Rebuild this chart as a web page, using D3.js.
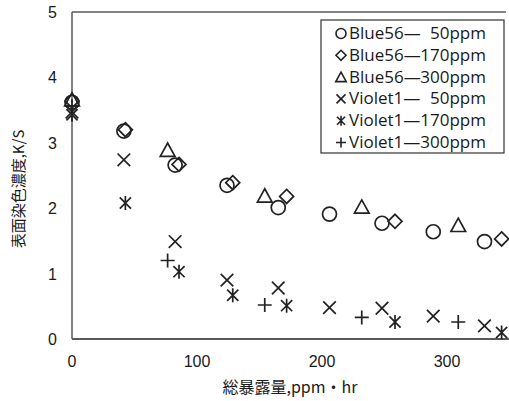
<!doctype html>
<html>
<head>
<meta charset="utf-8">
<script src="https://cdn.jsdelivr.net/npm/d3@7"></script>
<style>
    html, body { margin: 0; padding: 0; background: #fff; }
    svg { display: block; }
    .tick-label { font-family: "Liberation Sans", Arial, sans-serif; font-size: 16px; fill: #1a1a1a; }
    .axis-title { font-family: "Noto Sans CJK JP", sans-serif; font-size: 16px; fill: #1a1a1a; }
    .legend-text { font-family: "Open Sans", sans-serif; font-size: 16px; fill: #1a1a1a; }
</style>
</head>
<body>
<svg id="chart" width="509" height="401"></svg>
<script>
    // series names / legend
    var seriesNames = ["Blue56", "Blue56", "Blue56", "Violet1", "Violet1", "Violet1"];
    var seriesConc = ["50ppm", "170ppm", "300ppm", "50ppm", "170ppm", "300ppm"];
    var seriesMarks = ["circle", "diamond", "triangle", "times", "asterisk", "plus"];

    // exposure (ppm·hr) and K/S values
    var x50 = [0, 41.5, 82.5, 124, 165, 206, 248, 289, 330];
    var x170 = [0, 42.7, 85.6, 128.6, 171.7, 258.4, 343.7];
    var x300 = [0, 76.5, 154.2, 231.8, 309];

    var blue50 = [3.62, 3.18, 2.66, 2.35, 2.01, 1.91, 1.77, 1.64, 1.49];
    var blue170 = [3.64, 3.2, 2.67, 2.39, 2.18, 1.80, 1.53];
    var blue300 = [3.66, 2.89, 2.19, 2.02, 1.74];
    var violet50 = [3.47, 2.74, 1.49, 0.90, 0.78, 0.48, 0.47, 0.35, 0.20];
    var violet170 = [3.43, 2.08, 1.03, 0.67, 0.51, 0.26, 0.10];
    var violet300 = [3.56, 1.20, 0.52, 0.33, 0.26];

    var xTicks = [0, 100, 200, 300];
    var yTicks = [0, 1, 2, 3, 4, 5];

    var seriesX = [x50, x170, x300, x50, x170, x300];
    var seriesY = [blue50, blue170, blue300, violet50, violet170, violet300];

    var svg = d3.select("#chart");
    var plotLeft = 72, plotTop = 12, plotBottom = 339;

    var x = d3.scaleLinear().domain([0, 350]).range([plotLeft, plotLeft + 437.5]);
    var y = d3.scaleLinear().domain([0, 5]).range([plotBottom, plotTop]);

    // marker paths, s = half size
    function markPath(type, s) {
        var p = d3.path();
        if (type === "circle") {
            p.moveTo(s, 0); p.arc(0, 0, s, 0, 2 * Math.PI);
        } else if (type === "diamond") {
            p.moveTo(0, -s); p.lineTo(s, 0); p.lineTo(0, s); p.lineTo(-s, 0); p.closePath();
        } else if (type === "triangle") {
            p.moveTo(0, -s); p.lineTo(s * 1.05, s * 0.9); p.lineTo(-s * 1.05, s * 0.9); p.closePath();
        } else if (type === "times") {
            var a = s * 0.9;
            p.moveTo(-a, -a); p.lineTo(a, a); p.moveTo(a, -a); p.lineTo(-a, a);
        } else if (type === "asterisk") {
            var b = s * 0.8;
            p.moveTo(-b, -b); p.lineTo(b, b); p.moveTo(b, -b); p.lineTo(-b, b);
            p.moveTo(0, -s); p.lineTo(0, s);
        } else if (type === "plus") {
            p.moveTo(-s, 0); p.lineTo(s, 0); p.moveTo(0, -s); p.lineTo(0, s);
        }
        return p.toString();
    }

    // frame
    var axisColor = "#5a5a5a";
    svg.append("line").attr("x1", plotLeft).attr("x2", 506).attr("y1", plotTop).attr("y2", plotTop)
        .attr("stroke", axisColor).attr("stroke-width", 1.5);
    svg.append("line").attr("x1", plotLeft).attr("x2", plotLeft).attr("y1", plotTop).attr("y2", plotBottom)
        .attr("stroke", axisColor).attr("stroke-width", 1.5);
    svg.append("line").attr("x1", plotLeft).attr("x2", 509).attr("y1", plotBottom).attr("y2", plotBottom)
        .attr("stroke", axisColor).attr("stroke-width", 2);

    // tick labels
    svg.selectAll(".ytick").data(yTicks).enter().append("text")
        .attr("class", "tick-label")
        .attr("x", 57).attr("y", function(d){ return y(d) + 6; })
        .attr("text-anchor", "end")
        .text(function(d){ return d; });

    svg.selectAll(".xtick").data(xTicks).enter().append("text")
        .attr("class", "tick-label")
        .attr("x", function(d){ return x(d); }).attr("y", 367)
        .attr("text-anchor", "middle")
        .text(function(d){ return d; });

    // axis titles
    svg.append("text").attr("class", "axis-title")
        .style("font-size", "15px")
        .attr("transform", "translate(24,189) rotate(-90)")
        .attr("text-anchor", "middle")
        .text("表面染色濃度,K/S");
    svg.append("text").attr("class", "axis-title")
        .attr("x", 290).attr("y", 393)
        .attr("text-anchor", "middle")
        .text("総暴露量,ppm・hr");

    // points
    var markColor = "#222";
    seriesX.forEach(function(xs, i) {
        var pts = xs.map(function(v, j){ return [v, seriesY[i][j]]; });
        svg.append("g").selectAll("path").data(pts).enter().append("path")
            .attr("d", markPath(seriesMarks[i], 7))
            .attr("transform", function(d){ return "translate(" + x(d[0]) + "," + y(d[1]) + ")"; })
            .attr("fill", "none")
            .attr("stroke", markColor)
            .attr("stroke-width", 1.7);
    });

    // legend
    var lg = svg.append("g");
    var textLeft = 349, textRight = 486;
    lg.append("rect").attr("x", 321).attr("y", 20).attr("width", 183).attr("height", 133)
        .attr("fill", "#fff").attr("stroke", "#333").attr("stroke-width", 1.2);

    // fit the font so the longest row spans textLeft..textRight
    var probe = lg.append("text").attr("class", "legend-text").text("Violet1\u2014300ppm");
    var fs = 16 * (textRight - textLeft) / probe.node().getComputedTextLength();
    probe.remove();

    seriesNames.forEach(function(name, i) {
        var cy = 33.5 + i * 21.8;
        lg.append("path")
            .attr("d", markPath(seriesMarks[i], 5))
            .attr("transform", "translate(341," + cy + ")")
            .attr("fill", "none").attr("stroke", markColor).attr("stroke-width", 1.6);
        lg.append("text").attr("class", "legend-text")
            .style("font-size", fs + "px")
            .attr("x", textLeft).attr("y", cy + 5.5)
            .text(name + "\u2014");
        lg.append("text").attr("class", "legend-text")
            .style("font-size", fs + "px")
            .attr("x", textRight).attr("y", cy + 5.5)
            .attr("text-anchor", "end")
            .text(seriesConc[i]);
    });
</script>
</body>
</html>
